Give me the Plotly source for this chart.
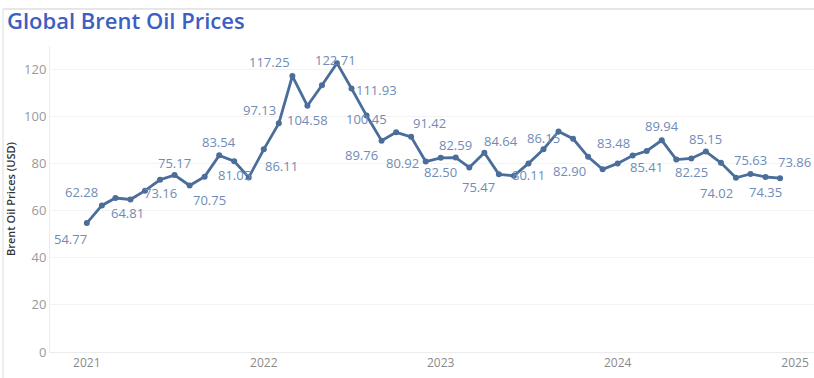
import plotly.graph_objects as go

# Monthly average Brent crude price, Jan 2021 - Dec 2024 (USD per barrel)
months = [f"{y}-{m:02d}-01" for y in (2021, 2022, 2023, 2024) for m in range(1, 13)]
prices = [
    54.77, 62.28, 65.41, 64.81, 68.53, 73.16, 75.17, 70.75, 74.49, 83.54, 81.05, 74.17,
    86.11, 97.13, 117.25, 104.58, 113.34, 122.71, 111.93, 100.45, 89.76, 93.33, 91.42, 80.92,
    82.50, 82.59, 78.43, 84.64, 75.47, 74.84, 80.11, 86.15, 93.72, 90.60, 82.90, 77.63,
    80.12, 83.48, 85.41, 89.94, 81.75, 82.25, 85.15, 80.36, 74.02, 75.63, 74.35, 73.86,
]

year_ticks = ["2021-01-01", "2022-01-01", "2023-01-01", "2024-01-01", "2025-01-01"]
year_labels = ["2021", "2022", "2023", "2024", "2025"]
y_ticks = [0, 20, 40, 60, 80, 100, 120]

# Which points carry a value label, and the pixel offset of each label from its point
label_offsets = {
    0: (-16, 16), 1: (-20, -13), 3: (-3, 14), 5: (0, 13), 6: (0, -12), 7: (20, 15),
    9: (0, -13), 10: (0, 14), 12: (18, 17), 13: (-19, -13), 14: (-23, -14),
    15: (0, 14), 17: (-1, -3), 18: (25, 1), 19: (0, 3), 20: (-20, 14),
    22: (18, -14), 23: (-23, 1), 24: (0, 14), 25: (0, -13), 27: (17, -12),
    28: (-20, 13), 30: (0, 12), 31: (0, -11), 34: (-19, 14), 37: (-19, -13),
    38: (0, 16), 39: (0, -14), 41: (0, 14), 42: (0, -13), 44: (-19, 15),
    45: (0, -14), 46: (0, 15), 47: (14, -16),
}

LINE = "#4a6d9a"
LABEL = "#6f8cb6"

fig = go.Figure()
fig.add_trace(go.Scatter(
    x=months, y=prices, mode="lines+markers",
    line=dict(color=LINE, width=2.8),
    marker=dict(color=LINE, size=6),
    hoverinfo="x+y",
))

for i, (dx, dy) in label_offsets.items():
    fig.add_annotation(
        x=months[i], y=prices[i], text=f"{prices[i]:.2f}",
        showarrow=False, xshift=dx, yshift=-dy,
        font=dict(family="Open Sans", size=13, color=LABEL),
    )

# Panel frame: top and left rules
fig.add_shape(type="line", xref="paper", yref="paper", x0=-0.0615, x1=1.0, y0=1.121, y1=1.121,
              line=dict(color="#cfcfcf", width=1))
fig.add_shape(type="line", xref="paper", yref="paper", x0=-0.0615, x1=-0.0615, y0=1.121, y1=-0.09,
              line=dict(color="#dcdcdc", width=1))

fig.update_layout(
    width=814, height=378,
    margin=dict(l=50, r=0, t=46, b=26),
    paper_bgcolor="white", plot_bgcolor="white",
    showlegend=False,
    title=dict(
        text="Global Brent Oil Prices",
        x=7 / 814, xref="container", xanchor="left",
        y=1 - 21 / 378, yref="container", yanchor="middle",
        font=dict(family="Open Sans", size=22, color="#3d5ec2", weight=600),
    ),
    font=dict(family="Open Sans"),
)

fig.update_xaxes(
    type="date", range=["2020-10-17", "2025-02-09"],
    tickvals=year_ticks, ticktext=year_labels,
    showgrid=False, zeroline=False,
    showline=True, linecolor="#ececec", linewidth=1,
    tickfont=dict(size=12, color="#8a8a8a"),
    ticks="",
)
fig.update_yaxes(
    range=[0, 130], tickvals=y_ticks,
    showgrid=True, gridcolor="#f3f3f3", gridwidth=1, zeroline=False,
    showline=True, linecolor="#ececec", linewidth=1,
    tickfont=dict(size=13, color="#9a9a9a"),
    ticks="",
    title=dict(text="Brent Oil Prices (USD)", font=dict(size=11, color="#333333", weight=600), standoff=6),
)

fig.write_html("out.html")
